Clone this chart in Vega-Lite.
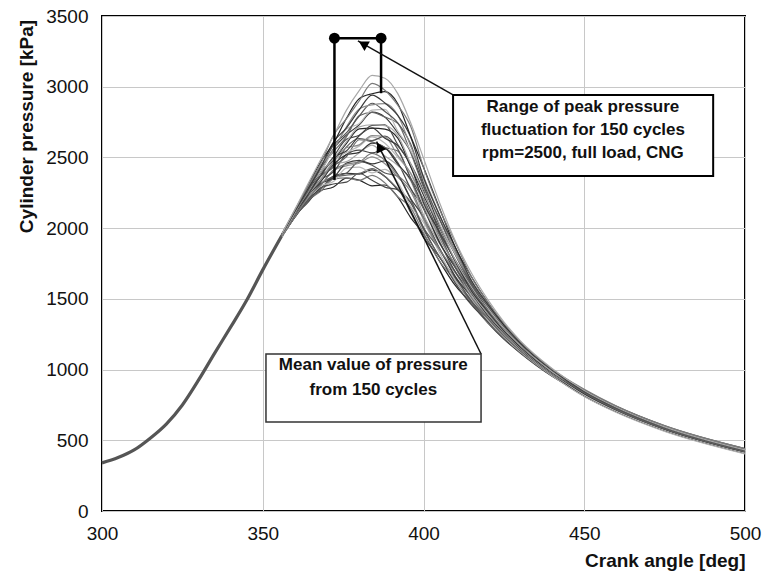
{
  "$schema": "https://vega.github.io/schema/vega-lite/v6.json",
  "width": 643,
  "height": 495,
  "autosize": {"type": "none"},
  "padding": {"left": 102, "top": 16, "right": 17, "bottom": 60},
  "background": "white",
  "config": {
    "view": {"stroke": "#000000", "strokeWidth": 2},
    "font": "Liberation Sans"
  },
  "datasets": {
    "base": [
      {"a": 300, "p": 340}, {"a": 305, "p": 378}, {"a": 310, "p": 432}, {"a": 315, "p": 515},
      {"a": 320, "p": 615}, {"a": 325, "p": 750}, {"a": 330, "p": 925}, {"a": 335, "p": 1115},
      {"a": 340, "p": 1300}, {"a": 345, "p": 1490}, {"a": 350, "p": 1705}, {"a": 356, "p": 1950}
    ],
    "cyc": [
      {"a":356,"c1":1941,"c2":1942,"c3":1945,"c4":1943,"c5":1944,"c6":1940,"c7":1945,"c8":1946,"c9":1950,"c10":1947,"c11":1948,"c12":1944,"c13":1949,"c14":1950,"c15":1954,"c16":1951,"c17":1947,"c18":1952,"c19":1953,"c20":1957,"c21":1954,"c22":1955,"c23":1956,"c24":1952,"c25":1957,"c26":1958,"c27":1959,"c28":1960,"c29":1961,"c30":1963},
      {"a":360,"c1":2077,"c2":2080,"c3":2085,"c4":2082,"c5":2079,"c6":2089,"c7":2088,"c8":2085,"c9":2096,"c10":2092,"c11":2091,"c12":2100,"c13":2098,"c14":2094,"c15":2105,"c16":2103,"c17":2098,"c18":2105,"c19":2112,"c20":2102,"c21":2110,"c22":2113,"c23":2120,"c24":2110,"c25":2118,"c26":2120,"c27":2119,"c28":2125,"c29":2128,"c30":2133},
      {"a":364,"c1":2195,"c2":2193,"c3":2181,"c4":2203,"c5":2194,"c6":2214,"c7":2196,"c8":2213,"c9":2221,"c10":2215,"c11":2238,"c12":2218,"c13":2234,"c14":2225,"c15":2237,"c16":2249,"c17":2247,"c18":2234,"c19":2252,"c20":2264,"c21":2253,"c22":2269,"c23":2260,"c24":2282,"c25":2268,"c26":2281,"c27":2275,"c28":2298,"c29":2294,"c30":2311},
      {"a":368,"c1":2265,"c2":2260,"c3":2285,"c4":2277,"c5":2275,"c6":2298,"c7":2313,"c8":2302,"c9":2313,"c10":2302,"c11":2340,"c12":2330,"c13":2327,"c14":2368,"c15":2345,"c16":2368,"c17":2345,"c18":2373,"c19":2393,"c20":2370,"c21":2395,"c22":2397,"c23":2425,"c24":2397,"c25":2420,"c26":2440,"c27":2432,"c28":2468,"c29":2455,"c30":2483},
      {"a":372,"c1":2291,"c2":2347,"c3":2312,"c4":2368,"c5":2359,"c6":2329,"c7":2365,"c8":2406,"c9":2356,"c10":2412,"c11":2398,"c12":2453,"c13":2449,"c14":2440,"c15":2475,"c16":2431,"c17":2466,"c18":2502,"c19":2483,"c20":2503,"c21":2489,"c22":2560,"c23":2541,"c24":2556,"c25":2587,"c26":2558,"c27":2609,"c28":2600,"c29":2656,"c30":2653},
      {"a":376,"c1":2353,"c2":2355,"c3":2325,"c4":2388,"c5":2375,"c6":2425,"c7":2388,"c8":2440,"c9":2460,"c10":2453,"c11":2520,"c12":2470,"c13":2518,"c14":2505,"c15":2535,"c16":2573,"c17":2568,"c18":2545,"c19":2598,"c20":2628,"c21":2610,"c22":2658,"c23":2645,"c24":2700,"c25":2673,"c26":2715,"c27":2708,"c28":2775,"c29":2773,"c30":2833},
      {"a":380,"c1":2339,"c2":2338,"c3":2388,"c4":2382,"c5":2386,"c6":2431,"c7":2470,"c8":2459,"c9":2479,"c10":2468,"c11":2552,"c12":2532,"c13":2536,"c14":2625,"c15":2580,"c16":2634,"c17":2589,"c18":2653,"c19":2702,"c20":2657,"c21":2716,"c22":2730,"c23":2794,"c24":2739,"c25":2793,"c26":2842,"c27":2836,"c28":2915,"c29":2899,"c30":2972},
      {"a":384,"c1":2299,"c2":2373,"c3":2338,"c4":2412,"c5":2421,"c6":2391,"c7":2445,"c8":2504,"c9":2454,"c10":2528,"c11":2532,"c12":2587,"c13":2601,"c14":2610,"c15":2645,"c16":2619,"c17":2654,"c18":2708,"c19":2707,"c20":2727,"c21":2731,"c22":2820,"c23":2819,"c24":2834,"c25":2883,"c26":2872,"c27":2941,"c28":2950,"c29":3024,"c30":3080},
      {"a":388,"c1":2305,"c2":2320,"c3":2290,"c4":2365,"c5":2365,"c6":2415,"c7":2390,"c8":2455,"c9":2475,"c10":2480,"c11":2560,"c12":2510,"c13":2570,"c14":2570,"c15":2600,"c16":2650,"c17":2645,"c18":2635,"c19":2700,"c20":2730,"c21":2725,"c22":2785,"c23":2785,"c24":2840,"c25":2825,"c26":2880,"c27":2885,"c28":2965,"c29":2975,"c30":3060},
      {"a":392,"c1":2219,"c2":2222,"c3":2272,"c4":2271,"c5":2279,"c6":2324,"c7":2368,"c8":2361,"c9":2381,"c10":2375,"c11":2463,"c12":2443,"c13":2452,"c14":2545,"c15":2500,"c16":2559,"c17":2514,"c18":2582,"c19":2636,"c20":2591,"c21":2654,"c22":2673,"c23":2741,"c24":2686,"c25":2745,"c26":2798,"c27":2797,"c28":2880,"c29":2869,"c30":2951},
      {"a":396,"c1":2075,"c2":2145,"c3":2110,"c4":2180,"c5":2185,"c6":2155,"c7":2205,"c8":2260,"c9":2210,"c10":2280,"c11":2280,"c12":2335,"c13":2345,"c14":2350,"c15":2385,"c16":2355,"c17":2390,"c18":2440,"c19":2435,"c20":2455,"c21":2455,"c22":2540,"c23":2535,"c24":2550,"c25":2595,"c26":2580,"c27":2645,"c28":2650,"c29":2720,"c30":2745},
      {"a":400,"c1":1960,"c2":1965,"c3":1935,"c4":2000,"c5":1990,"c6":2040,"c7":2005,"c8":2060,"c9":2080,"c10":2075,"c11":2145,"c12":2095,"c13":2145,"c14":2135,"c15":2165,"c16":2205,"c17":2200,"c18":2180,"c19":2235,"c20":2265,"c21":2250,"c22":2300,"c23":2290,"c24":2345,"c25":2320,"c26":2365,"c27":2360,"c28":2430,"c29":2430,"c30":2495},
      {"a":405,"c1":1765,"c2":1766,"c3":1796,"c4":1794,"c5":1798,"c6":1825,"c7":1850,"c8":1845,"c9":1857,"c10":1852,"c11":1904,"c12":1892,"c13":1896,"c14":1951,"c15":1924,"c16":1958,"c17":1931,"c18":1971,"c19":2002,"c20":1975,"c21":2012,"c22":2022,"c23":2062,"c24":2029,"c25":2063,"c26":2094,"c27":2092,"c28":2141,"c29":2133,"c30":2180},
      {"a":410,"c1":1591,"c2":1626,"c3":1608,"c4":1642,"c5":1644,"c6":1628,"c7":1652,"c8":1679,"c9":1654,"c10":1688,"c11":1687,"c12":1715,"c13":1719,"c14":1720,"c15":1738,"c16":1721,"c17":1739,"c18":1763,"c19":1759,"c20":1770,"c21":1768,"c22":1810,"c23":1806,"c24":1814,"c25":1836,"c26":1827,"c27":1859,"c28":1860,"c29":1894,"c30":1904},
      {"a":415,"c1":1465,"c2":1467,"c3":1455,"c4":1481,"c5":1477,"c6":1497,"c7":1483,"c8":1505,"c9":1513,"c10":1511,"c11":1539,"c12":1519,"c13":1539,"c14":1535,"c15":1547,"c16":1563,"c17":1561,"c18":1553,"c19":1575,"c20":1587,"c21":1581,"c22":1601,"c23":1597,"c24":1619,"c25":1609,"c26":1627,"c27":1625,"c28":1653,"c29":1653,"c30":1679},
      {"a":420,"c1":1331,"c2":1331,"c3":1340,"c4":1343,"c5":1345,"c6":1352,"c7":1362,"c8":1362,"c9":1366,"c10":1368,"c11":1383,"c12":1380,"c13":1384,"c14":1400,"c15":1393,"c16":1405,"c17":1398,"c18":1411,"c19":1422,"c20":1415,"c21":1427,"c22":1432,"c23":1445,"c24":1436,"c25":1448,"c26":1458,"c27":1461,"c28":1475,"c29":1476,"c30":1494},
      {"a":425,"c1":1216,"c2":1221,"c3":1224,"c4":1227,"c5":1232,"c6":1229,"c7":1238,"c8":1243,"c9":1246,"c10":1249,"c11":1254,"c12":1251,"c13":1260,"c14":1265,"c15":1268,"c16":1271,"c17":1268,"c18":1276,"c19":1282,"c20":1285,"c21":1287,"c22":1293,"c23":1298,"c24":1295,"c25":1304,"c26":1309,"c27":1315,"c28":1320,"c29":1326,"c30":1337},
      {"a":430,"c1":1119,"c2":1123,"c3":1126,"c4":1127,"c5":1131,"c6":1128,"c7":1135,"c8":1139,"c9":1142,"c10":1143,"c11":1147,"c12":1144,"c13":1151,"c14":1155,"c15":1158,"c16":1159,"c17":1156,"c18":1163,"c19":1167,"c20":1170,"c21":1171,"c22":1175,"c23":1179,"c24":1176,"c25":1183,"c26":1187,"c27":1191,"c28":1195,"c29":1199,"c30":1207},
      {"a":440,"c1":953,"c2":955,"c3":958,"c4":958,"c5":960,"c6":957,"c7":963,"c8":965,"c9":968,"c10":968,"c11":970,"c12":967,"c13":973,"c14":975,"c15":978,"c16":978,"c17":975,"c18":980,"c19":983,"c20":986,"c21":985,"c22":988,"c23":990,"c24":987,"c25":993,"c26":995,"c27":998,"c28":1000,"c29":1003,"c30":1008},
      {"a":450,"c1":829,"c2":816,"c3":836,"c4":812,"c5":829,"c6":809,"c7":826,"c8":840,"c9":820,"c10":838,"c11":819,"c12":835,"c13":829,"c14":849,"c15":821,"c16":843,"c17":831,"c18":849,"c19":830,"c20":842,"c21":840,"c22":856,"c23":834,"c24":854,"c25":840,"c26":853,"c27":847,"c28":853,"c29":861,"c30":852},
      {"a":460,"c1":717,"c2":703,"c3":723,"c4":700,"c5":716,"c6":696,"c7":713,"c8":726,"c9":706,"c10":724,"c11":705,"c12":721,"c13":715,"c14":734,"c15":706,"c16":728,"c17":716,"c18":733,"c19":715,"c20":727,"c21":724,"c22":740,"c23":717,"c24":737,"c25":723,"c26":736,"c27":730,"c28":735,"c29":743,"c30":734},
      {"a":475,"c1":584,"c2":570,"c3":590,"c4":567,"c5":583,"c6":563,"c7":579,"c8":592,"c9":572,"c10":589,"c11":571,"c12":587,"c13":580,"c14":599,"c15":571,"c16":592,"c17":580,"c18":597,"c19":579,"c20":591,"c21":588,"c22":603,"c23":580,"c24":600,"c25":585,"c26":599,"c27":592,"c28":597,"c29":604,"c30":595},
      {"a":500,"c1":426,"c2":412,"c3":432,"c4":408,"c5":424,"c6":404,"c7":420,"c8":433,"c9":413,"c10":430,"c11":411,"c12":427,"c13":420,"c14":439,"c15":411,"c16":432,"c17":420,"c18":437,"c19":418,"c20":430,"c21":427,"c22":442,"c23":419,"c24":439,"c25":424,"c26":437,"c27":430,"c28":435,"c29":442,"c30":432}
    ],
    "bracket": [
      {"a": 372.3, "a2": 372.3, "p": 2341, "p2": 3343},
      {"a": 386.8, "a2": 386.8, "p": 2954, "p2": 3343},
      {"a": 372.3, "a2": 386.8, "p": 3343, "p2": 3343}
    ],
    "dots": [
      {"a": 372.3, "p": 3343},
      {"a": 386.8, "p": 3343}
    ],
    "arrows": [
      {"a": 409.2, "a2": 379.6, "p": 2942, "p2": 3324},
      {"a": 417.9, "a2": 385.4, "p": 1110, "p2": 2612}
    ],
    "head1": [{"a": 381.2, "p": 3303}],
    "head2": [{"a": 386.25, "p": 2573}],
    "box1": [
      {"a": 409.2, "a2": 490.1, "p": 2942, "p2": 2369}
    ],
    "box2": [
      {"a": 351.0, "a2": 417.9, "p": 1110, "p2": 629}
    ],
    "notes": [
      {"a": 449.6, "p": 2857, "t": "Range of peak pressure"},
      {"a": 449.6, "p": 2694, "t": "fluctuation for 150 cycles"},
      {"a": 449.6, "p": 2532, "t": "rpm=2500, full load, CNG"},
      {"a": 384.4, "p": 1032, "t": "Mean value of pressure"},
      {"a": 384.4, "p": 856, "t": "from 150 cycles"}
    ]
  },
  "encoding": {
    "x": {
      "field": "a", "type": "quantitative",
      "scale": {"domain": [300, 500], "nice": false, "zero": false},
      "axis": {
        "values": [300, 350, 400, 450, 500],
        "format": "d",
        "title": "Crank angle [deg]",
        "labelFont": "Liberation Sans", "labelFontSize": 19, "labelColor": "#111111",
        "labelPadding": 13, "labelFlush": false,
        "ticks": false, "domain": false,
        "grid": true, "gridColor": "#c8c8c8", "gridWidth": 1,
        "titleFont": "Liberation Sans", "titleFontSize": 19, "titleFontWeight": "bold", "titleColor": "#111111",
        "titleX": 643, "titleY": 49, "titleAlign": "right", "titleBaseline": "middle"
      }
    },
    "y": {
      "field": "p", "type": "quantitative",
      "scale": {"domain": [0, 3500], "nice": false},
      "axis": {
        "values": [0, 500, 1000, 1500, 2000, 2500, 3000, 3500],
        "format": "d",
        "title": "Cylinder pressure [kPa]",
        "labelFont": "Liberation Sans", "labelFontSize": 19, "labelColor": "#111111",
        "labelPadding": 14,
        "ticks": false, "domain": false,
        "grid": true, "gridColor": "#c8c8c8", "gridWidth": 1,
        "titleFont": "Liberation Sans", "titleFontSize": 19, "titleFontWeight": "bold", "titleColor": "#111111",
        "titleAngle": -90, "titleX": -76, "titleY": 110, "titleAlign": "center", "titleBaseline": "middle"
      }
    }
  },
  "layer": [
    {
      "data": {"name": "base"},
      "mark": {"type": "line", "color": "#555555", "strokeWidth": 3.2, "interpolate": "monotone"}
    },
    {
      "data": {"name": "cyc"},
      "transform": [
        {"fold": ["c1","c2","c3","c4","c5","c6","c7","c8","c9","c10","c11","c12","c13","c14","c15","c16","c17","c18","c19","c20","c21","c22","c23","c24","c25","c26","c27","c28","c29","c30"], "as": ["cycle", "p"]}
      ],
      "mark": {"type": "line", "strokeWidth": 1.2, "interpolate": "monotone"},
      "encoding": {
        "color": {
          "field": "cycle", "type": "nominal", "legend": null,
          "scale": {"range": ["#262626","#7a7a7a","#474747","#a8a8a8","#333333","#656565","#b8b8b8","#555555","#8c8c8c","#3a3a3a"]}
        }
      }
    },
    {
      "data": {"name": "bracket"},
      "mark": {"type": "rule", "color": "#000000", "strokeWidth": 2.5},
      "encoding": {"x2": {"field": "a2"}, "y2": {"field": "p2"}}
    },
    {
      "data": {"name": "dots"},
      "mark": {"type": "point", "filled": true, "color": "#000000", "size": 120, "opacity": 1}
    },
    {
      "data": {"name": "arrows"},
      "mark": {"type": "rule", "color": "#111111", "strokeWidth": 1.5},
      "encoding": {"x2": {"field": "a2"}, "y2": {"field": "p2"}}
    },
    {
      "data": {"name": "head1"},
      "mark": {"type": "point", "shape": "triangle-up", "filled": true, "color": "#000000", "size": 120, "angle": 299.6, "opacity": 1}
    },
    {
      "data": {"name": "head2"},
      "mark": {"type": "point", "shape": "triangle-up", "filled": true, "color": "#000000", "size": 120, "angle": 333.8, "opacity": 1}
    },
    {
      "data": {"name": "box1"},
      "mark": {"type": "rect", "fill": "#ffffff", "stroke": "#000000", "strokeWidth": 2},
      "encoding": {"x2": {"field": "a2"}, "y2": {"field": "p2"}}
    },
    {
      "data": {"name": "box2"},
      "mark": {"type": "rect", "fill": "#ffffff", "stroke": "#333333", "strokeWidth": 1.5},
      "encoding": {"x2": {"field": "a2"}, "y2": {"field": "p2"}}
    },
    {
      "data": {"name": "notes"},
      "mark": {"type": "text", "font": "Liberation Sans", "fontSize": 17, "fontWeight": "bold", "color": "#111111", "align": "center", "baseline": "middle"},
      "encoding": {"text": {"field": "t"}}
    }
  ]
}
